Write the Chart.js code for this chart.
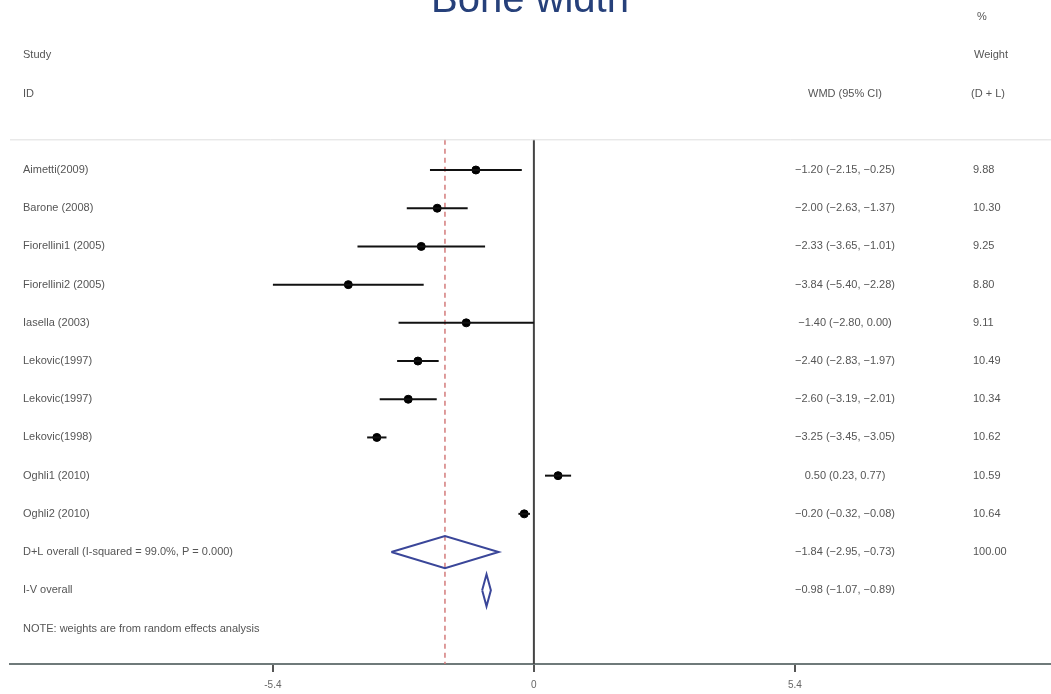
<!DOCTYPE html>
<html>
<head>
<meta charset="utf-8">
<title>Bone width</title>
<script src="https://cdn.jsdelivr.net/npm/chart.js@4/dist/chart.umd.min.js"></script>
<style>
  body { margin: 0; background: #fff; }
  #wrap { width: 1051px; height: 694px; position: relative; }
</style>
</head>
<body>
<div id="wrap"><canvas id="chart"></canvas></div>
<script>
// study data (WMD with 95% CI, random-effects weights)
const studies = ["Aimetti(2009)", "Barone (2008)", "Fiorellini1 (2005)", "Fiorellini2 (2005)", "Iasella (2003)",
  "Lekovic(1997)", "Lekovic(1997)", "Lekovic(1998)", "Oghli1 (2010)", "Oghli2 (2010)"];
const est = [-1.20, -2.00, -2.33, -3.84, -1.40, -2.40, -2.60, -3.25, 0.50, -0.20];
const lo = [-2.15, -2.63, -3.65, -5.40, -2.80, -2.83, -3.19, -3.45, 0.23, -0.32];
const hi = [-0.25, -1.37, -1.01, -2.28, 0.00, -1.97, -2.01, -3.05, 0.77, -0.08];
const weights = ["9.88", "10.30", "9.25", "8.80", "9.11", "10.49", "10.34", "10.62", "10.59", "10.64"];

// pooled estimates
const pooledLabels = ["D+L overall (I-squared = 99.0%, P = 0.000)", "I-V overall"];
const pooledEst = [-1.84, -0.98];
const pooledLo = [-2.95, -1.07];
const pooledHi = [-0.73, -0.89];
const pooledWeights = ["100.00", ""];

const xTicks = [-5.4, 0, 5.4];
const note = "NOTE: weights are from random effects analysis";

const ctx = document.getElementById("chart");

// formatting with a real minus sign
function fmt(v) {
  return (v < 0 ? "\u2212" : "") + Math.abs(v).toFixed(2);
}

const datasets = [];

// CI lines
studies.forEach((s, i) => {
  datasets.push({
    type: "scatter",
    data: [{ x: lo[i], y: i }, { x: hi[i], y: i }],
    showLine: true,
    borderColor: "#111",
    borderWidth: 2,
    pointRadius: 0
  });
});

// point estimates
datasets.push({
  type: "scatter",
  data: est.map((v, i) => ({ x: v, y: i })),
  backgroundColor: "#000",
  borderColor: "#000",
  pointRadius: 4,
  pointStyle: "circle"
});

// pooled diamonds
const half = 0.42;
pooledEst.forEach((v, k) => {
  const row = studies.length + k;
  datasets.push({
    type: "scatter",
    data: [
      { x: pooledLo[k], y: row },
      { x: v, y: row - half },
      { x: pooledHi[k], y: row },
      { x: v, y: row + half },
      { x: pooledLo[k], y: row }
    ],
    showLine: true,
    borderColor: "#3a4699",
    borderWidth: 2,
    pointRadius: 0,
    tension: 0
  });
});

// null line and overall line
const topRow = -0.79;
const bottomRow = 12.93;
datasets.push({
  type: "scatter",
  data: [{ x: 0, y: topRow }, { x: 0, y: bottomRow }],
  showLine: true,
  borderColor: "#444",
  borderWidth: 2,
  pointRadius: 0
});
datasets.push({
  type: "scatter",
  data: [{ x: pooledEst[0], y: topRow }, { x: pooledEst[0], y: bottomRow }],
  showLine: true,
  borderColor: "#d37b7b",
  borderWidth: 1.5,
  borderDash: [5, 4],
  pointRadius: 0
});

// text columns drawn on the canvas
const textPlugin = {
  id: "forestText",
  afterDraw(chart) {
    const c = chart.ctx;
    const y = chart.scales.y;
    const area = chart.chartArea;
    c.save();

    // faint header rule
    c.strokeStyle = "#dedede";
    c.lineWidth = 1;
    c.beginPath();
    c.moveTo(area.left, y.getPixelForValue(topRow));
    c.lineTo(area.right, y.getPixelForValue(topRow));
    c.stroke();

    // title (clipped at the top like the original)
    c.fillStyle = "#26407a";
    c.font = "40px 'Liberation Sans', Arial, sans-serif";
    c.textAlign = "center";
    c.textBaseline = "alphabetic";
    c.fillText("Bone width", 530, 12);

    c.fillStyle = "#555";
    c.font = "11px 'Liberation Sans', Arial, sans-serif";
    c.textBaseline = "middle";

    // headers
    c.textAlign = "left";
    c.fillText("Study", 23, y.getPixelForValue(-3));
    c.fillText("ID", 23, y.getPixelForValue(-2));
    c.fillText("%", 977, y.getPixelForValue(-4));
    c.fillText("Weight", 974, y.getPixelForValue(-3));
    c.fillText("(D + L)", 971, y.getPixelForValue(-2));
    c.textAlign = "center";
    c.fillText("WMD (95% CI)", 845, y.getPixelForValue(-2));

    // study rows
    studies.forEach((s, i) => {
      const py = y.getPixelForValue(i);
      c.textAlign = "left";
      c.fillText(s, 23, py);
      c.fillText(weights[i], 973, py);
      c.textAlign = "center";
      c.fillText(fmt(est[i]) + " (" + fmt(lo[i]) + ", " + fmt(hi[i]) + ")", 845, py);
    });

    // pooled rows
    pooledLabels.forEach((s, k) => {
      const py = y.getPixelForValue(studies.length + k);
      c.textAlign = "left";
      c.fillText(s, 23, py);
      c.fillText(pooledWeights[k], 973, py);
      c.textAlign = "center";
      c.fillText(fmt(pooledEst[k]) + " (" + fmt(pooledLo[k]) + ", " + fmt(pooledHi[k]) + ")", 845, py);
    });

    c.textAlign = "left";
    c.fillText(note, 23, y.getPixelForValue(12));
    c.restore();
  }
};

new Chart(ctx, {
  type: "scatter",
  data: { datasets: datasets },
  options: {
    responsive: true,
    maintainAspectRatio: false,
    animation: false,
    layout: { autoPadding: false, padding: { left: 10, right: 0, top: 0, bottom: 0 } },
    plugins: {
      legend: { display: false },
      tooltip: { enabled: false },
      title: { display: false }
    },
    scales: {
      x: {
        type: "linear",
        min: -10.84,
        max: 10.7,
        afterBuildTicks: (scale) => {
          scale.ticks = xTicks.map((v) => ({ value: v }));
        },
        afterFit: (scale) => { scale.height = 30; },
        border: { display: true, color: "#6f7a7a", width: 2 },
        grid: {
          display: true,
          drawOnChartArea: false,
          drawTicks: true,
          tickLength: 8,
          color: "#555",
          lineWidth: 2
        },
        ticks: {
          color: "#666",
          font: { size: 10, family: "'Liberation Sans', Arial, sans-serif" },
          padding: 7,
          callback: (v) => String(v)
        }
      },
      y: {
        type: "linear",
        display: false,
        reverse: true,
        min: -4.45,
        max: 12.93
      }
    }
  },
  plugins: [textPlugin]
});
</script>
</body>
</html>
